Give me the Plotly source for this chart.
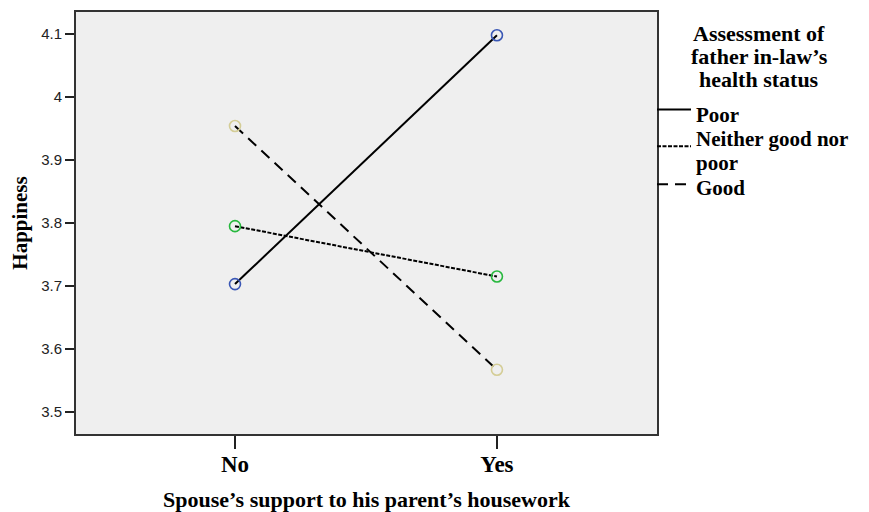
import plotly.graph_objects as go

categories = ["No", "Yes"]
series_names = ["Poor", "Neither good nor", "Good"]
extra_text_line = "poor"
poor = [3.703, 4.098]
neither = [3.795, 3.715]
good = [3.954, 3.567]
y_ticks = [3.5, 3.6, 3.7, 3.8, 3.9, 4.0, 4.1]
y_tick_labels = ["3.5", "3.6", "3.7", "3.8", "3.9", "4", "4.1"]
legend_title_lines = ["Assessment of", "father in-law’s", "health status"]

marker_colors = ["#3a57b5", "#27b83e", "#d4cd96"]
dashes = ["solid", "4px,1.5px", "11px,7px"]

x_idx = list(range(len(categories)))

fig = go.Figure()
for vals, col, dash, name in zip([poor, neither, good], marker_colors, dashes, series_names):
    fig.add_trace(go.Scatter(
        x=x_idx, y=vals, mode="lines+markers", name=name,
        line=dict(color="black", width=2, dash=dash),
        marker=dict(symbol="circle-open", size=11, color=col, line=dict(width=1.6, color=col)),
        showlegend=False,
    ))

serif = "Liberation Serif, Times New Roman, serif"
sans = "Liberation Sans, Arial, sans-serif"

# page body has an 8px margin; figure placed at screen (8, 8)
W, H = 861, 504
PL, PR, PT, PB = 76, 657, 10, 434  # plot area in screen px
OFF = 8

fig.update_layout(
    width=W, height=H,
    margin=dict(l=PL - OFF, r=W - (PR - OFF), t=PT - OFF, b=H - (PB - OFF)),
    paper_bgcolor="white", plot_bgcolor="#efefef",
    xaxis=dict(
        range=[-0.607, 1.611], tickvals=x_idx, ticktext=categories,
        showgrid=False, zeroline=False,
        ticks="outside", ticklen=13, tickwidth=2, tickcolor="#222",
        ticklabelstandoff=-5,
        tickfont=dict(family=serif, size=23, color="black", weight="bold"),
        showline=True, linecolor="#333", linewidth=2, mirror=True,
        title=dict(text="<b>Spouse’s support to his parent’s housework</b>",
                   font=dict(family=serif, size=22, color="black"), standoff=16),
    ),
    yaxis=dict(
        range=[3.465, 4.135], tickvals=y_ticks, ticktext=y_tick_labels,
        showgrid=False, zeroline=False,
        ticks="outside", ticklen=9, tickwidth=2, tickcolor="#222",
        tickfont=dict(family=sans, size=15, color="#222"),
        showline=True, linecolor="#333", linewidth=2, mirror=True,
        title=dict(text="<b>Happiness</b>", font=dict(family=serif, size=21, color="black"), standoff=8),
    ),
)

# Legend drawn manually to the right of the plot area (screen px -> paper)
def px_x(px):
    return (px - PL) / float(PR - PL)

def px_y(py):
    return (PB - py) / float(PB - PT)

def text_at(txt, px, py, size, anchor="left"):
    fig.add_annotation(
        xref="paper", yref="paper", x=px_x(px), y=px_y(py), xanchor=anchor, yanchor="middle",
        text=f"<b>{txt}</b>", showarrow=False, align=anchor,
        font=dict(family=serif, size=size, color="black"),
    )

for line_text, py in zip(legend_title_lines, [32, 55, 78]):
    text_at(line_text, 759, py, 22, anchor="center")

legend_line_y = [108, 145, 183]
legend_text_y = [113, 138, 187]
for name, dash, ly, ty in zip(series_names, dashes, legend_line_y, legend_text_y):
    fig.add_shape(type="line", xref="paper", yref="paper",
                  x0=1.0, x1=px_x(691), y0=px_y(ly), y1=px_y(ly),
                  line=dict(color="black", width=2, dash=dash))
    text_at(name, 694, ty, 21)
text_at(extra_text_line, 694, 162, 21)

fig.write_html("out.html")
